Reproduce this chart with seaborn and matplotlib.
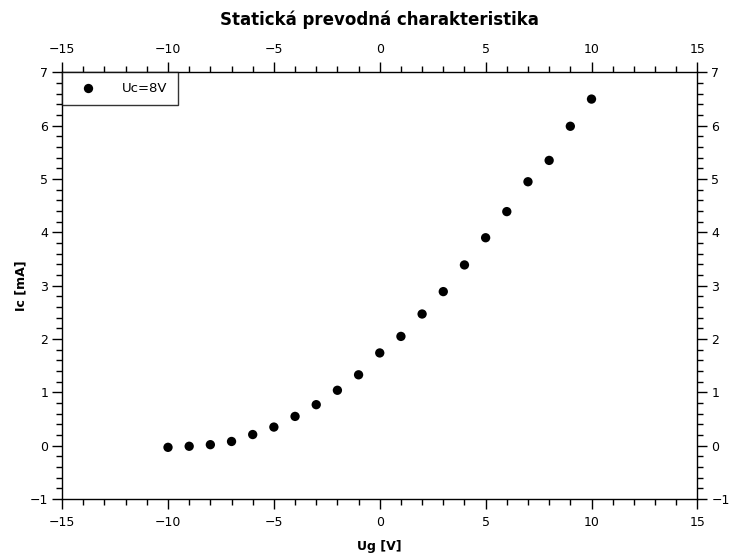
import matplotlib
matplotlib.use("Agg")
import matplotlib.pyplot as plt
from matplotlib.ticker import MultipleLocator
import seaborn as sns
import pandas as pd

# measured grid voltage and collector current
ug = [-10, -9, -8, -7, -6, -5, -4, -3, -2, -1, 0, 1, 2, 3, 4, 5, 6, 7, 8, 9, 10]
ic = [-0.03, -0.01, 0.02, 0.08, 0.21, 0.35, 0.55, 0.77, 1.04, 1.33, 1.74,
      2.05, 2.47, 2.89, 3.39, 3.90, 4.39, 4.95, 5.35, 5.99, 6.50]
series_label = "Uc=8V"

df = pd.DataFrame({"Ug [V]": ug, "Ic [mA]": ic, "series": series_label})

sns.set_style("ticks")
plt.rcParams["font.family"] = ["DejaVu Sans"]
plt.rcParams["text.color"] = "black"
plt.rcParams["axes.labelcolor"] = "black"
plt.rcParams["xtick.color"] = "black"
plt.rcParams["ytick.color"] = "black"

fig = plt.figure(figsize=(7.31, 5.57), dpi=100)
ax = fig.add_axes([0.085, 0.104, 0.869, 0.766])

sns.scatterplot(
    data=df, x="Ug [V]", y="Ic [mA]", hue="series",
    palette=["black"], s=45, edgecolor="black", linewidth=0, ax=ax
)

ax.set_xlim(-15, 15)
ax.set_ylim(-1, 7)
ax.xaxis.set_major_locator(MultipleLocator(5))
ax.xaxis.set_minor_locator(MultipleLocator(1))
ax.yaxis.set_major_locator(MultipleLocator(1))
ax.yaxis.set_minor_locator(MultipleLocator(0.2))
ax.tick_params(which="both", direction="out", top=True, right=True,
               labeltop=True, labelright=True, labelsize=9, color="black",
               width=1)
ax.tick_params(which="major", length=7, pad=5)
ax.tick_params(which="minor", length=4)
ax.tick_params(axis="y", which="major", pad=3)
for sp in ax.spines.values():
    sp.set_color("black")
    sp.set_linewidth(1)

ax.set_xlabel("Ug [V]", fontweight="bold", fontsize=9, labelpad=8)
ax.set_ylabel("Ic [mA]", fontweight="bold", fontsize=9, labelpad=2)
ax.set_title("Statická prevodná charakteristika", fontweight="bold",
             fontsize=12, pad=34)

leg = ax.legend(loc="upper left", frameon=True, fancybox=False,
                borderaxespad=0, fontsize=9.5, markerscale=1.0,
                handlelength=2.4, handletextpad=1.4, borderpad=0.75)
leg.get_frame().set_edgecolor("black")
leg.get_frame().set_linewidth(1)

plt.savefig("out.png", dpi=100)
plt.close()
